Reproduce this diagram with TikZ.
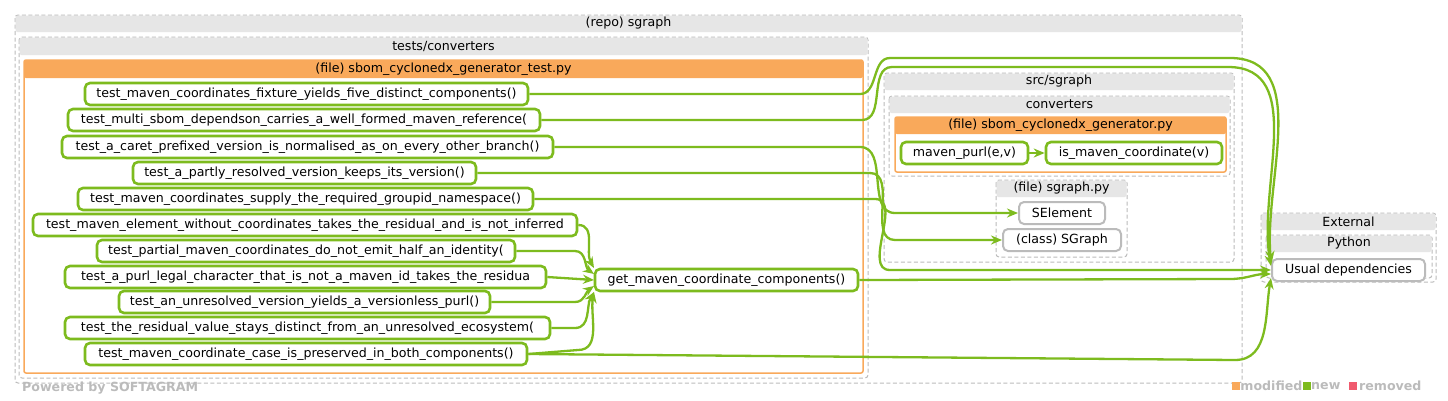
\documentclass[tikz,border=0pt]{standalone}
\usepackage{fontspec}
\setmainfont{DejaVu Sans}
\usetikzlibrary{arrows.meta}
\definecolor{gr}{HTML}{7DBB1E}
\definecolor{orr}{HTML}{F9A95B}
\definecolor{hd}{HTML}{E6E6E6}
\definecolor{bd}{HTML}{BBBBBB}
\begin{document}
\begin{tikzpicture}[x=1pt,y=-1pt,
 fn/.style={draw=gr,line width=2.6pt,rounded corners=5pt,fill=white,inner sep=0pt,font=\fontsize{12.6}{13}\selectfont},
 gn/.style={draw=bd,line width=2pt,rounded corners=5pt,fill=white,inner sep=0pt,font=\fontsize{12.6}{13}\selectfont},
 e/.style={draw=gr,line width=2.3pt,-{Stealth[length=11pt,width=9pt]}},
 cont/.style={draw=bd,dash pattern=on 4pt off 2.5pt,line width=1pt,rounded corners=3pt},
 ttl/.style={font=\fontsize{12.6}{13}\selectfont,inner sep=0pt}]
\useasboundingbox (0,0) rectangle (1448,400);
\newcommand\cbox[6]{% x1 y1 x2 y2 header-bottom title
 \draw[cont,fill=white] (#1,#2) rectangle (#3,#4);
 \fill[hd,rounded corners=2pt] (#1+0.5,#2+0.5) rectangle (#3-0.5,#5);
 \node[ttl] at ({(#1+#3)/2},{(#2+#5)/2}) {#6};}
\newcommand\obox[6]{%
 \draw[orr,line width=1.5pt,fill=white,rounded corners=2pt] (#1,#2) rectangle (#3,#4);
 \fill[orr,rounded corners=2pt] (#1,#2) rectangle (#3,#5);
 \node[ttl] at ({(#1+#3)/2},{(#2+#5)/2}) {#6};}
\cbox{15}{15}{1242}{383}{32}{(repo) sgraph}
\cbox{19}{37}{868}{378}{55}{tests/converters}
\obox{24}{60}{863}{373}{78}{(file) sbom\_cyclonedx\_generator\_test.py}
\cbox{884}{73}{1234}{262}{90}{src/sgraph}
\cbox{889}{96}{1230}{176}{113}{converters}
\obox{895}{117}{1226}{172}{134}{(file) sbom\_cyclonedx\_generator.py}
\cbox{996}{180}{1127}{257}{197}{(file) sgraph.py}
\cbox{1261}{213}{1436}{282}{230}{External}
\cbox{1266}{235}{1432}{278}{252}{Python}
\newcommand\nd[6]{\node[#1,minimum width=#4-#3,minimum height=22] (#2) at ({(#3+#4)/2},#5) {#6};}
\nd{fn}{t1}{85}{528}{94}{test\_maven\_coordinates\_fixture\_yields\_five\_distinct\_components()}
\nd{fn}{t2}{68}{540}{120}{test\_multi\_sbom\_dependson\_carries\_a\_well\_formed\_maven\_reference(}
\nd{fn}{t3}{62}{553}{147}{test\_a\_caret\_prefixed\_version\_is\_normalised\_as\_on\_every\_other\_branch()}
\nd{fn}{t4}{133}{476}{173}{test\_a\_partly\_resolved\_version\_keeps\_its\_version()}
\nd{fn}{t5}{78}{533}{199}{test\_maven\_coordinates\_supply\_the\_required\_groupid\_namespace()}
\nd{fn}{t6}{33}{577}{225}{test\_maven\_element\_without\_coordinates\_takes\_the\_residual\_and\_is\_not\_inferred}
\nd{fn}{t7}{97}{515}{251}{test\_partial\_maven\_coordinates\_do\_not\_emit\_half\_an\_identity(}
\nd{fn}{t8}{65}{546}{277}{test\_a\_purl\_legal\_character\_that\_is\_not\_a\_maven\_id\_takes\_the\_residua}
\nd{fn}{t9}{119}{490}{302}{test\_an\_unresolved\_version\_yields\_a\_versionless\_purl()}
\nd{fn}{t10}{65}{550}{328}{test\_the\_residual\_value\_stays\_distinct\_from\_an\_unresolved\_ecosystem(}
\nd{fn}{t11}{85}{527}{354}{test\_maven\_coordinate\_case\_is\_preserved\_in\_both\_components()}
\nd{fn}{gm}{595}{858}{280}{get\_maven\_coordinate\_components()}
\nd{fn}{mp}{901}{1028}{153}{maven\_purl(e,v)}
\nd{fn}{im}{1046}{1222}{153}{is\_maven\_coordinate(v)}
\nd{gn}{se}{1019}{1105}{213}{SElement}
\nd{gn}{sg}{1003}{1121}{240}{(class) SGraph}
\nd{gn}{ud}{1272}{1425}{270}{Usual dependencies}
\coordinate (u1) at (1271,262);\coordinate (u2) at (1271,266);\coordinate (u3) at (1271,270);
\coordinate (u4) at (1271,274);\coordinate (u5) at (1271,278);
\draw[e] (t1.east) -- (860,94) to[out=0,in=180] (890,58) -- (1230,58) to[out=0,in=95] (u1);
\draw[e] (t2.east) -- (862,120) to[out=0,in=180] (892,67) -- (1228,67) to[out=0,in=100] (u2);
\draw[e] (t3.east) -- (860,147) to[out=0,in=180] (895,213) -- (se.west);
\draw[e] (t4.east) -- (870,173) to[out=0,in=180] (895,240) -- (sg.west);
\draw[e] (t5.east) -- (875,199) to[out=0,in=180] (890,270) -- (u3);
\draw[e] (gm.east) -- (1230,279) to[out=0,in=180] (u4);
\draw[e] (t11.east) -- (1235,360) to[out=0,in=-100] (u5);
\coordinate (g1) at (594,268);\coordinate (g2) at (594,274);\coordinate (g3) at (594,280);
\coordinate (g4) at (594,286);\coordinate (g5) at (594,292);
\draw[e] (t6.east) to[out=0,in=120] (g1);
\draw[e] (t7.east) -- (575,251) to[out=0,in=145] (g2);
\draw[e] (t8.east) -- (g3);
\draw[e] (t9.east) -- (575,302) to[out=0,in=-145] (g4);
\draw[e] (t10.east) -- (575,328) to[out=0,in=-120] (g5);
\draw[e] (t11.east) -- (578,350) to[out=0,in=-100] (g5);
\draw[e] (mp.east) -- (im.west);
\node[anchor=west,text=bd,font=\bfseries\fontsize{12.6}{13}\selectfont,inner sep=0pt] (pw) at (22,388) {Powered by SOFTAGRAM};
\node[fill=orr,minimum size=8pt,inner sep=0pt] (l1) at (1236,386) {};
\node[anchor=west,text=bd,font=\bfseries\fontsize{12.6}{13}\selectfont,inner sep=0pt] (m1) at (l1.east) {modified};
\node[fill=gr,minimum size=8pt,inner sep=0pt,anchor=west] (l2) at (m1.east) {};
\node[anchor=west,text=bd,font=\bfseries\fontsize{12.6}{13}\selectfont,inner sep=0pt] (m2) at (l2.east) {new};
\node[fill={rgb,255:red,240;green,90;blue,110},minimum size=8pt,inner sep=0pt,anchor=west] (l3) at ([xshift=8pt]m2.east) {};
\node[anchor=west,text=bd,font=\bfseries\fontsize{12.6}{13}\selectfont,inner sep=0pt] (m3) at ([xshift=2pt]l3.east) {removed};
\end{tikzpicture}
\end{document}
